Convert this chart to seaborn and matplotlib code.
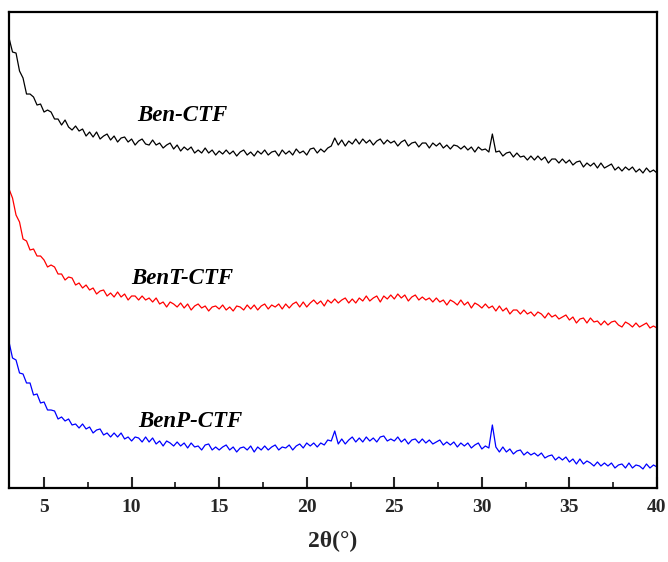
import numpy as np
import pandas as pd
import matplotlib
matplotlib.use("Agg")
import matplotlib.pyplot as plt
from matplotlib.ticker import MultipleLocator
import seaborn as sns

# 2-theta scan positions (degrees), 0.2 degree step from 3 to 40
two_theta = np.round(np.arange(3.0, 40.0001, 0.2), 1)

# Intensities (a.u., stacked offsets already included)
ben_ctf = [
    431, 417, 416, 398, 391, 375, 375, 372, 364, 365,
    357, 359, 357, 350, 350, 344, 349, 342, 339, 343,
    338, 340, 333, 337, 332, 337, 330, 333, 335, 329,
    333, 327, 331, 332, 327, 330, 324, 328, 330, 325,
    324, 329, 324, 326, 321, 324, 326, 320, 324, 318,
    322, 319, 322, 316, 319, 316, 321, 316, 319, 314,
    318, 315, 319, 315, 318, 313, 317, 319, 314, 317,
    313, 318, 315, 319, 314, 317, 318, 313, 319, 315,
    318, 314, 320, 316, 318, 314, 320, 321, 316, 320,
    317, 321, 323, 331, 324, 329, 323, 328, 325, 330,
    325, 330, 326, 329, 324, 328, 330, 325, 329, 326,
    328, 323, 327, 329, 323, 326, 327, 322, 326, 326,
    321, 326, 323, 326, 321, 324, 320, 324, 323, 320,
    323, 319, 322, 317, 322, 319, 320, 317, 335, 317,
    318, 313, 316, 317, 312, 316, 312, 313, 309, 313,
    309, 313, 309, 312, 306, 310, 310, 306, 310, 306,
    309, 304, 307, 308, 302, 306, 303, 306, 301, 306,
    301, 303, 305, 299, 302, 298, 302, 299, 302, 297,
    300, 296, 301, 297, 299, 296,
]

bent_ctf = [
    280, 271, 254, 247, 230, 228, 219, 220, 213, 213,
    209, 202, 204, 202, 195, 195, 189, 192, 191, 184,
    186, 181, 184, 179, 181, 175, 178, 179, 173, 176,
    172, 177, 172, 175, 169, 173, 173, 169, 173, 169,
    171, 167, 171, 165, 167, 162, 167, 165, 162, 166,
    161, 165, 159, 163, 165, 161, 163, 158, 162, 163,
    160, 164, 159, 162, 158, 163, 162, 159, 164, 160,
    164, 159, 163, 165, 160, 164, 162, 165, 160, 165,
    161, 165, 167, 162, 167, 162, 166, 169, 165, 168,
    163, 169, 166, 170, 166, 169, 171, 166, 170, 166,
    171, 168, 173, 168, 171, 173, 167, 173, 170, 174,
    170, 175, 171, 174, 168, 172, 174, 169, 172, 169,
    171, 167, 171, 167, 169, 164, 169, 167, 164, 169,
    164, 167, 161, 166, 164, 161, 165, 161, 163, 158,
    163, 158, 161, 155, 159, 159, 155, 159, 155, 157,
    153, 157, 155, 151, 156, 152, 154, 150, 152, 154,
    149, 152, 146, 150, 151, 146, 151, 147, 148, 144,
    148, 144, 147, 148, 144, 142, 147, 145, 142, 146,
    142, 144, 146, 141, 143, 141,
]

benp_ctf = [
    127, 111, 109, 96, 95, 86, 86, 74, 75, 66,
    67, 59, 59, 58, 50, 52, 48, 50, 44, 45,
    41, 45, 40, 42, 36, 39, 40, 34, 36, 32,
    36, 32, 36, 30, 32, 28, 32, 31, 27, 32,
    27, 31, 25, 28, 23, 28, 26, 23, 27, 23,
    26, 21, 26, 22, 23, 19, 24, 25, 19, 22,
    19, 22, 24, 19, 22, 17, 21, 22, 19, 23,
    17, 22, 19, 23, 19, 22, 24, 19, 22, 21,
    24, 19, 23, 25, 21, 26, 23, 26, 22, 26,
    24, 29, 28, 38, 25, 30, 25, 29, 32, 27,
    31, 27, 32, 28, 31, 27, 32, 33, 28, 30,
    28, 32, 27, 30, 25, 29, 30, 26, 30, 26,
    29, 25, 27, 29, 24, 27, 24, 27, 22, 26,
    23, 26, 21, 24, 26, 20, 23, 21, 44, 22,
    17, 22, 17, 20, 15, 18, 19, 14, 17, 14,
    16, 13, 16, 11, 13, 14, 9, 12, 9, 12,
    7, 10, 5, 10, 5, 8, 6, 3, 7, 3,
    6, 3, 6, 1, 4, 5, 1, 6, 1, 4,
    3, 0, 5, 1, 4, 2,
]

samples = ["Ben-CTF", "BenT-CTF", "BenP-CTF"]
colors = ["black", "#ff0000", "#0000ff"]
label_pos = [(12.88, 354), (12.88, 191), (13.34, 47)]
x_ticks = [5, 10, 15, 20, 25, 30, 35, 40]

df = pd.concat(
    [
        pd.DataFrame({"two_theta": two_theta, "intensity": vals, "sample": name})
        for name, vals in zip(samples, [ben_ctf, bent_ctf, benp_ctf])
    ],
    ignore_index=True,
)

sns.set_style("ticks")
plt.rcParams["font.family"] = ["Liberation Serif", "DejaVu Serif"]
plt.rcParams["font.weight"] = "bold"

fig = plt.figure(figsize=(6.68, 5.62), dpi=100)
ax = fig.add_axes([0.0135, 0.1317, 0.9700, 0.8469])

sns.lineplot(
    data=df, x="two_theta", y="intensity", hue="sample",
    palette=dict(zip(samples, colors)), estimator=None, sort=True,
    linewidth=0.9, legend=False, ax=ax,
)

for name, (tx, ty) in zip(samples, label_pos):
    ax.text(tx, ty, name, ha="center", va="center", fontsize=16.5,
            fontweight="bold", fontstyle="italic", color="black")

ax.set_xlim(3, 40)
ax.set_ylim(-19, 457)
ax.set_xticks(x_ticks)
ax.set_xticklabels([str(t) for t in x_ticks], fontsize=14, fontweight="bold")
ax.xaxis.set_minor_locator(MultipleLocator(2.5))
ax.set_yticks([])
ax.set_ylabel("")
ax.set_xlabel("2θ(°)", fontsize=17, fontweight="bold", labelpad=11)

ax.tick_params(axis="x", which="major", direction="in", length=8, width=1.5, pad=8)
ax.tick_params(axis="x", which="minor", direction="in", length=4, width=1.3)
for side in ["top", "right", "bottom", "left"]:
    ax.spines[side].set_visible(True)
    ax.spines[side].set_linewidth(1.6)
    ax.spines[side].set_color("black")

fig.savefig("out.png", dpi=100)
